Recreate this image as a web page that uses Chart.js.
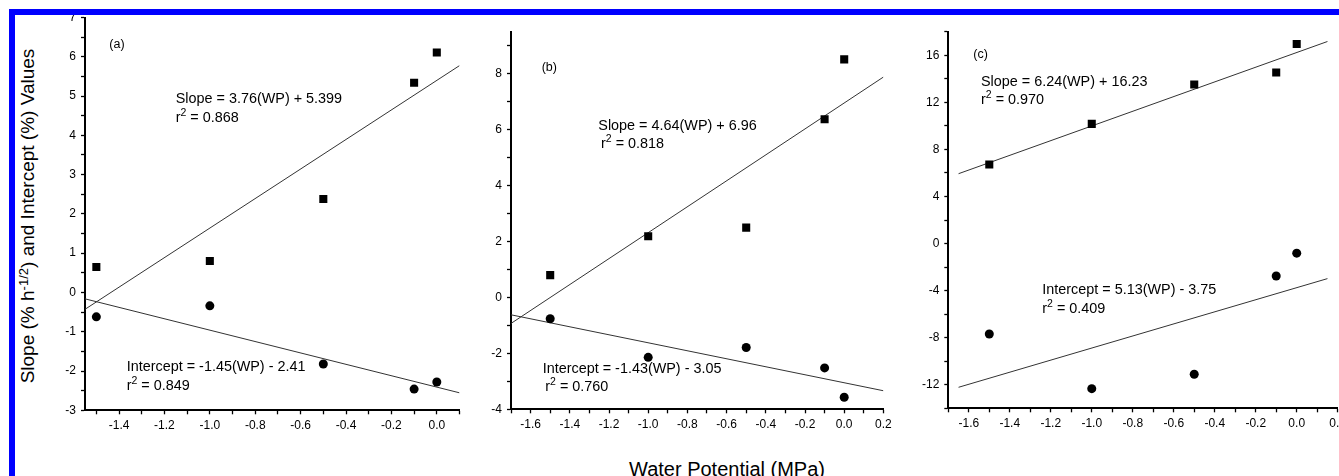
<!DOCTYPE html>
<html><head><meta charset="utf-8">
<script src="https://cdn.jsdelivr.net/npm/chart.js@4.4.1/dist/chart.umd.min.js"></script>
<style>
html,body{margin:0;padding:0;background:#fff;overflow:hidden;}
#wrap{position:relative;width:1339px;height:476px;overflow:hidden;background:#fff;}
#wrap canvas{position:absolute;}
.band{position:absolute;background:#0000ff;}
#ytitle{position:absolute;left:27px;top:216px;transform:translate(-50%,-50%) rotate(-90deg);font-family:"Liberation Sans",Arial,sans-serif;font-size:19px;line-height:1;white-space:nowrap;color:#000;}
#ytitle .sup{font-size:13px;position:relative;top:-6px;}
#xtitle{position:absolute;left:727px;top:459.4px;transform:translateX(-50%);font-family:"Liberation Sans",Arial,sans-serif;font-size:20px;line-height:1;white-space:nowrap;color:#000;}
</style></head>
<body>
<div id="wrap">
  <canvas id="pa"></canvas>
  <canvas id="pb"></canvas>
  <canvas id="pc"></canvas>
  <div id="ytitle">Slope (% h<span class="sup">-1/2</span>) and Intercept (%) Values</div>
  <div id="xtitle">Water Potential (MPa)</div>
  <div class="band" style="left:9px;top:9px;width:1330px;height:6px;"></div>
  <div class="band" style="left:9px;top:9px;width:6px;height:467px;"></div>
</div>
<script>
// ---- data ----
const waterPotential = [-1.5, -1.0, -0.5, -0.1, 0.0];

const slopeA = [0.65, 0.80, 2.38, 5.34, 6.11];
const interceptA = [-0.62, -0.34, -1.82, -2.46, -2.28];
const slopeB = [0.80, 2.19, 2.50, 6.38, 8.52];
const interceptB = [-0.76, -2.14, -1.79, -2.52, -3.57];
const slopeC = [6.72, 10.17, 13.52, 14.54, 16.95];
const interceptC = [-7.69, -12.33, -11.11, -2.76, -0.82];

// regression coefficients [slope, intercept] and drawn x-extent
const fitSlopeA = [3.76, 5.399], fitInterceptA = [-1.45, -2.41], fitRangeA = [-1.55, 0.1];
const fitSlopeB = [4.64, 6.96],  fitInterceptB = [-1.43, -3.05], fitRangeB = [-1.7, 0.2];
const fitSlopeC = [6.24, 16.23], fitInterceptC = [5.13, -3.75],  fitRangeC = [-1.65, 0.15];

// tick labels
const xTicksA = [-1.4, -1.2, -1.0, -0.8, -0.6, -0.4, -0.2, 0.0];
const xTicksB = [-1.6, -1.4, -1.2, -1.0, -0.8, -0.6, -0.4, -0.2, 0.0, 0.2];
const xTicksC = [-1.6, -1.4, -1.2, -1.0, -0.8, -0.6, -0.4, -0.2, 0.0, 0.2];
const yTicksA = [-3, -2, -1, 0, 1, 2, 3, 4, 5, 6, 7];
const yTicksB = [-4, -2, 0, 2, 4, 6, 8];
const yTicksC = [-12, -8, -4, 0, 4, 8, 12, 16];

// annotation texts
const notesA = [
  {t:'(a)', small:true}, {t:'Slope = 3.76(WP) + 5.399'}, {r2:'0.868'},
  {t:'Intercept = -1.45(WP) - 2.41'}, {r2:'0.849'}];
const notesB = [
  {t:'(b)', small:true}, {t:'Slope = 4.64(WP) + 6.96'}, {r2:'0.818'},
  {t:'Intercept = -1.43(WP) - 3.05'}, {r2:'0.760'}];
const notesC = [
  {t:'(c)', small:true}, {t:'Slope = 6.24(WP) + 16.23'}, {r2:'0.970'},
  {t:'Intercept = 5.13(WP) - 3.75'}, {r2:'0.409'}];

// ---- rendering ----
const FONT = '"Liberation Sans", Arial, Helvetica, sans-serif';

function pairs(xs, ys){ return xs.map((x,i)=>({x:x, y:ys[i]})); }
function fitLine(coef, range){ return range.map(x=>({x:x, y:coef[0]*x+coef[1]})); }
function isIn(v, arr){ return arr.some(a=>Math.abs(a-v)<1e-6); }
function stepTicks(min, max, step){
  const out=[]; const k0=Math.ceil(min/step-1e-9), k1=Math.floor(max/step+1e-9);
  for(let k=k0;k<=k1;k++) out.push({value:+(k*step).toFixed(6)});
  return out;
}

function makePanel(p){
  const cv = document.getElementById(p.id);
  cv.width = p.box[2]; cv.height = p.box[3];
  cv.style.left = p.box[0]+'px'; cv.style.top = p.box[1]+'px';
  cv.style.width = p.box[2]+'px'; cv.style.height = p.box[3]+'px';

  const notePlugin = {
    id:'notes',
    afterDraw(chart){
      const ctx = chart.ctx;
      ctx.save();
      ctx.fillStyle = '#000';
      ctx.textBaseline = 'alphabetic';
      ctx.textAlign = 'left';
      p.notes.forEach((n,i)=>{
        const pos = p.notePos[i];
        const x = pos[0]-p.box[0], y = pos[1]-p.box[1];
        ctx.font = '14.4px ' + FONT;
        if (n.r2 !== undefined){
          ctx.fillText('r', x, y);
          const w = ctx.measureText('r').width;
          ctx.font = '10.5px ' + FONT;
          ctx.fillText('2', x+w, y-6);
          const w2 = ctx.measureText('2').width;
          ctx.font = '14.4px ' + FONT;
          ctx.fillText(' = ' + n.r2, x+w+w2, y);
        } else {
          if (n.small) ctx.font = '12.5px ' + FONT;
          ctx.fillText(n.t, x, y);
        }
      });
      ctx.restore();
    }
  };

  const tickCommon = {color:'#000', font:{family:FONT, size:12}, autoSkip:false, maxRotation:0, minRotation:0};
  const gridCommon = {display:true, drawOnChartArea:false, drawTicks:true, tickLength:4, tickColor:'#000', tickWidth:1.3};

  new Chart(cv, {
    type:'scatter',
    data:{datasets:[
      {data:fitLine(p.fitS, p.fitR), showLine:true, borderColor:'#333', borderWidth:1, pointRadius:0, order:3},
      {data:fitLine(p.fitI, p.fitR), showLine:true, borderColor:'#333', borderWidth:1, pointRadius:0, order:3},
      {data:pairs(waterPotential, p.slope), pointStyle:'rect', pointRadius:5.7, backgroundColor:'#000', borderColor:'#000', borderWidth:0, order:1},
      {data:pairs(waterPotential, p.inter), pointStyle:'circle', pointRadius:4.5, backgroundColor:'#000', borderColor:'#000', borderWidth:0, order:1}
    ]},
    options:{
      responsive:false, animation:false, devicePixelRatio:1,
      layout:{padding:{top:p.pad[0], right:p.pad[1], bottom:0, left:0}},
      plugins:{legend:{display:false}, tooltip:{enabled:false}},
      events:[],
      scales:{
        x:{type:'linear', position:'bottom', min:p.xr[0], max:p.xr[1],
           border:{display:true, color:'#000', width:2},
           grid:gridCommon,
           ticks:Object.assign({}, tickCommon, {padding:4, callback:(v)=>isIn(v,p.xt)?(Math.abs(v)<1e-9?'0.0':v.toFixed(1)):''}),
           afterBuildTicks:(s)=>{ s.ticks = stepTicks(p.xr[0], p.xr[1], 0.1); },
           afterFit:(s)=>{ s.height = p.xh; s.paddingLeft=0; s.paddingRight=0; s.paddingTop=0; s.paddingBottom=0; }
        },
        y:{type:'linear', position:'left', min:p.yr[0], max:p.yr[1],
           border:{display:true, color:'#000', width:2},
           grid:gridCommon,
           ticks:Object.assign({}, tickCommon, {padding:5, callback:(v)=>isIn(v,p.yt)?String(Math.round(v)):''}),
           afterBuildTicks:(s)=>{ s.ticks = stepTicks(p.yr[0], p.yr[1], p.yMinor); },
           afterFit:(s)=>{ s.width = p.yw; s.paddingLeft=0; s.paddingRight=0; s.paddingTop=0; s.paddingBottom=0; }
        }
      }
    },
    plugins:[notePlugin]
  });
}

makePanel({id:'pa', box:[45,7,430,440], pad:[10.5,15.5], yw:40, xh:36.7,
  xr:[-1.55,0.1], yr:[-3,7], yMinor:0.5, xt:xTicksA, yt:yTicksA,
  slope:slopeA, inter:interceptA, fitS:fitSlopeA, fitI:fitInterceptA, fitR:fitRangeA,
  notes:notesA, notePos:[[109.3,47.5],[175.7,103.3],[175.7,121.7],[126.7,370.7],[126.7,390]]});
makePanel({id:'pb', box:[471,22,430,430], pad:[10,17.6], yw:40, xh:42.7,
  xr:[-1.7,0.2], yr:[-4,9.5], yMinor:1, xt:xTicksB, yt:yTicksB,
  slope:slopeB, inter:interceptB, fitS:fitSlopeB, fitI:fitInterceptB, fitR:fitRangeB,
  notes:notesB, notePos:[[541.7,71],[598.3,130],[601,148.3],[542.7,372.7],[545.3,391]]});
makePanel({id:'pc', box:[903,21,450,430], pad:[10.7,15.3], yw:45.3, xh:42.7,
  xr:[-1.7,0.2], yr:[-14,18], yMinor:2, xt:xTicksC, yt:yTicksC,
  slope:slopeC, inter:interceptC, fitS:fitSlopeC, fitI:fitInterceptC, fitR:fitRangeC,
  notes:notesC, notePos:[[973.3,58.3],[981,85.7],[981,104.3],[1042.3,294.3],[1042.3,313.3]]});
</script>
</body></html>
